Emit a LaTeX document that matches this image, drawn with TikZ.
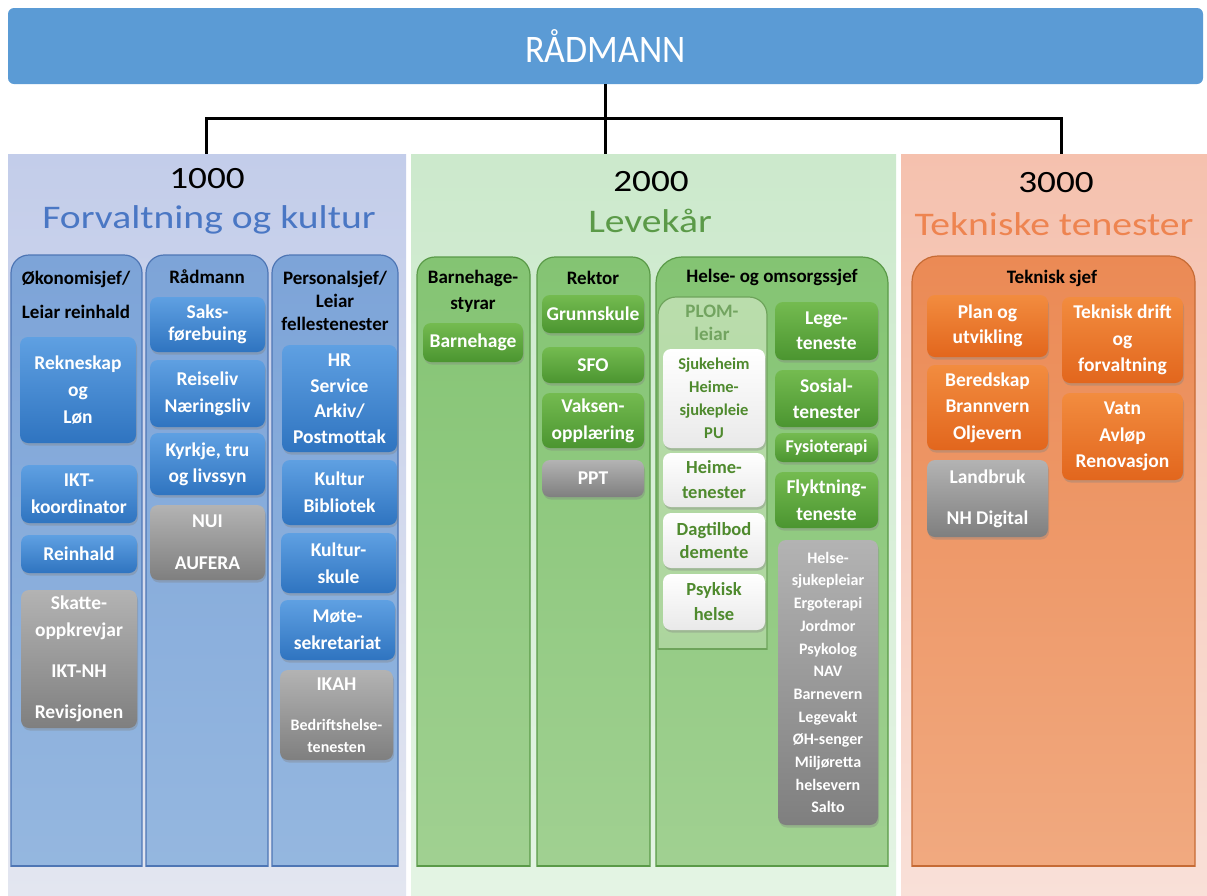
\documentclass[tikz,border=0pt]{standalone}
\usepackage{fontspec}
\setmainfont{Carlito}
\newfontfamily\titlefont{Carlito}[FakeStretch=1.2]
\newfontfamily\barfont{Carlito}[FakeStretch=0.92]
\usetikzlibrary{shadows}

\definecolor{barBlue}{HTML}{5B9BD5}
\definecolor{panelBlueTop}{HTML}{C3CDEA}
\definecolor{panelBlueBot}{HTML}{E3E6F0}
\definecolor{panelGreenTop}{HTML}{CCE9CC}
\definecolor{panelGreenBot}{HTML}{E4F4E4}
\definecolor{panelOrangeTop}{HTML}{F5C1AE}
\definecolor{panelOrangeBot}{HTML}{F9E0D8}
\definecolor{colBlueTop}{HTML}{7DA4D8}
\definecolor{colBlueBot}{HTML}{96B8E0}
\definecolor{colBlueLine}{HTML}{4E76B5}
\definecolor{colGreenTop}{HTML}{84C473}
\definecolor{colGreenBot}{HTML}{A2D193}
\definecolor{colGreenLine}{HTML}{5A9A48}
\definecolor{plomTop}{HTML}{BADDAC}
\definecolor{plomBot}{HTML}{AAD49B}
\definecolor{plomLine}{HTML}{6EA45B}
\definecolor{plomHead}{HTML}{72A460}
\definecolor{colOrangeTop}{HTML}{EB8A55}
\definecolor{colOrangeBot}{HTML}{F1AB82}
\definecolor{colOrangeLine}{HTML}{C66B35}
\definecolor{boxBlueTop}{HTML}{5FA0E2}
\definecolor{boxBlueBot}{HTML}{2F74C0}
\definecolor{boxGreenTop}{HTML}{74BB50}
\definecolor{boxGreenBot}{HTML}{4B9530}
\definecolor{boxOrangeTop}{HTML}{F28C3F}
\definecolor{boxOrangeBot}{HTML}{E2661D}
\definecolor{boxGrayTop}{HTML}{B3B3B3}
\definecolor{boxGrayBot}{HTML}{7F7F7F}
\definecolor{boxWhiteBot}{HTML}{E9E9E9}
\definecolor{whiteText}{HTML}{4F8A2E}
\definecolor{titleBlue}{HTML}{4A77C4}
\definecolor{titleGreen}{HTML}{5B9A48}
\definecolor{titleOrange}{HTML}{EE8450}

\newcommand{\smallboxfont}{\fontsize{16}{22}\selectfont}

\tikzset{
    boxspan/.style n args={4}{at={({(#1+#3)/2},{(#2+#4)/2})},
        minimum width={(#3-#1)*1pt}, minimum height={(#4-#2)*1pt}},
    unitbox/.style={rounded corners=8pt, inner sep=0pt, align=center, text=white,
        font=\bfseries\fontsize{19.5}{26}\selectfont,
        drop shadow={shadow xshift=1pt, shadow yshift=-2.5pt, opacity=0.35}},
    bluebox/.style={unitbox, top color=boxBlueTop, bottom color=boxBlueBot},
    greenbox/.style={unitbox, top color=boxGreenTop, bottom color=boxGreenBot},
    orangebox/.style={unitbox, top color=boxOrangeTop, bottom color=boxOrangeBot},
    graybox/.style={unitbox, top color=boxGrayTop, bottom color=boxGrayBot},
    whitebox/.style={unitbox, top color=white, bottom color=boxWhiteBot, text=whiteText,
        font=\bfseries\fontsize{18.5}{25}\selectfont},
    headtext/.style={inner sep=0pt, align=center, font=\bfseries\fontsize{19}{23}\selectfont},
    numtext/.style={inner sep=0pt, anchor=base, font=\titlefont\fontsize{31}{34}\selectfont},
    titletext/.style={inner sep=0pt, anchor=base, font=\titlefont\fontsize{33}{36}\selectfont},
    panelbox/.style={inner sep=0pt, draw=none},
    colblue/.style={draw=colBlueLine, line width=1.2pt, top color=colBlueTop, bottom color=colBlueBot},
    colgreen/.style={draw=colGreenLine, line width=1.2pt, top color=colGreenTop, bottom color=colGreenBot},
    colplom/.style={draw=plomLine, line width=1.2pt, top color=plomTop, bottom color=plomBot},
    colorange/.style={draw=colOrangeLine, line width=1.2pt, top color=colOrangeTop, bottom color=colOrangeBot},
    connline/.style={line width=3pt, black},
}

\begin{document}
\begin{tikzpicture}[x=1pt, y=-1pt]
    % variables
    \pgfmathsetmacro{\vColBottom}{866}
    \pgfmathsetmacro{\vPlomBottom}{649}

    \useasboundingbox (0,0) rectangle (1207,895);
    \fill[white] (0,0) rectangle (1207,895);

    % top bar
    \node[inner sep=0pt, rounded corners=6pt, fill=barBlue, text=white,
        font=\barfont\fontsize{39}{42}\selectfont, boxspan={8}{8}{1203}{84}] (raadmann) {RÅDMANN};

    % panels
    \node[panelbox, top color=panelBlueTop, bottom color=panelBlueBot, boxspan={8}{154}{406}{895}] (p1) {};
    \node[panelbox, top color=panelGreenTop, bottom color=panelGreenBot, boxspan={411}{154}{896}{895}] (p2) {};
    \node[panelbox, top color=panelOrangeTop, bottom color=panelOrangeBot, boxspan={901}{154}{1207}{895}] (p3) {};

    \coordinate (j1) at (206,118);
    \coordinate (j3) at (1061,118);
    \draw[connline] (raadmann.south) -- (raadmann.south |- p2.north);
    \draw[connline] (j1 |- p1.north) -- (j1) -- (j3) -- (j3 |- p3.north);

    \node[numtext] (n1000) at (207,188) {1000};
    \node[titletext, text=titleBlue] (t1000) at (209,228) {Forvaltning og kultur};
    \node[numtext] (n2000) at (651,191) {2000};
    \node[titletext, text=titleGreen] (t2000) at (650,232) {Levekår};
    \node[numtext] (n3000) at (1056,192) {3000};
    \node[titletext, text=titleOrange] (t3000) at (1054,235) {Tekniske tenester};

    % columns, open at the bottom
    \begin{scope}
        \clip (0,0) rectangle (1207,\vColBottom);
        \draw[colblue, rounded corners=18pt] (11,255) rectangle (142,900);
        \draw[colblue, rounded corners=18pt] (146,255) rectangle (268,900);
        \draw[colblue, rounded corners=18pt] (272,255) rectangle (398,900);
        \draw[colgreen, rounded corners=18pt] (417,257) rectangle (530,900);
        \draw[colgreen, rounded corners=18pt] (537,257) rectangle (650,900);
        \draw[colgreen, rounded corners=26pt] (656,257) rectangle (888,900);
        \draw[colorange, rounded corners=26pt] (912,256) rectangle (1195,900);
    \end{scope}
    \draw[colBlueLine, line width=1.2pt] (11,\vColBottom) -- (142,\vColBottom);
    \draw[colBlueLine, line width=1.2pt] (146,\vColBottom) -- (268,\vColBottom);
    \draw[colBlueLine, line width=1.2pt] (272,\vColBottom) -- (398,\vColBottom);
    \draw[colGreenLine, line width=1.2pt] (417,\vColBottom) -- (530,\vColBottom);
    \draw[colGreenLine, line width=1.2pt] (537,\vColBottom) -- (650,\vColBottom);
    \draw[colGreenLine, line width=1.2pt] (656,\vColBottom) -- (888,\vColBottom);
    \draw[colOrangeLine, line width=1.2pt] (912,\vColBottom) -- (1195,\vColBottom);
    \begin{scope}
        \clip (0,0) rectangle (1207,\vPlomBottom);
        \draw[colplom, rounded corners=18pt] (658,297) rectangle (767,700);
    \end{scope}
    \draw[plomLine, line width=1.2pt] (658,\vPlomBottom) -- (767,\vPlomBottom);

    % column heads
    \node[headtext] (h11) at (76,295) {Økonomisjef/\\[11pt]Leiar reinhald};
    \node[headtext] (h12) at (207,277) {Rådmann};
    \node[headtext] (h13) at (335,301) {Personalsjef/\\Leiar\\fellestenester};
    \node[headtext] (h21) at (473,291) {Barnehage-\\[3pt]styrar};
    \node[headtext] (h22) at (593,278) {Rektor};
    \node[headtext] (h23) at (772,277) {Helse- og omsorgssjef};
    \node[headtext, text=plomHead] (hplom) at (712,323) {PLOM-\\leiar};
    \node[headtext] (h31) at (1052,278) {Teknisk sjef};

    % 1000
    \node[bluebox, boxspan={20}{337}{136}{443}] (rekneskap) {Rekneskap\\[1pt]og\\[1pt]Løn};
    \node[bluebox, boxspan={21}{465}{137}{523}] (ikt) {IKT-\\[1pt]koordinator};
    \node[bluebox, boxspan={21}{535}{137}{573}] (reinhald) {Reinhald};
    \node[graybox, boxspan={21}{590}{137}{728}] (skatt) {Skatte-\\[1pt]oppkrevjar\\[15pt]IKT-NH\\[15pt]Revisjonen};
    \node[bluebox, boxspan={150}{297}{265}{352}] (saks) {Saks-\\[-4pt]førebuing};
    \node[bluebox, boxspan={150}{360}{265}{427}] (reiseliv) {Reiseliv\\[1pt]Næringsliv};
    \node[bluebox, boxspan={150}{433}{265}{495}] (kyrkje) {Kyrkje, tru\\og livssyn};
    \node[graybox, boxspan={150}{505}{265}{580}] (nui) {NUI\\[16pt]AUFERA};
    \node[bluebox, boxspan={282}{345}{397}{452}] (hr) {HR\\[-0.5pt]Service\\[-0.5pt]Arkiv/\\[-0.5pt]Postmottak};
    \node[bluebox, boxspan={282}{460}{397}{525}] (kultur) {Kultur\\[1pt]Bibliotek};
    \node[bluebox, boxspan={281}{533}{396}{593}] (kulturskule) {Kultur-\\[1pt]skule};
    \node[bluebox, boxspan={280}{600}{395}{660}] (mote) {Møte-\\[1pt]sekretariat};
    \node[graybox, boxspan={280}{670}{393}{760}] (ikah) {IKAH\\[14pt]\smallboxfont Bedriftshelse-\\[-4pt]\smallboxfont tenesten};

    % 2000
    \node[greenbox, boxspan={423}{323}{523}{362}] (barnehage) {Barnehage};
    \node[greenbox, boxspan={542}{295}{644}{333}] (grunnskule) {Grunnskule};
    \node[greenbox, boxspan={542}{347}{644}{383}] (sfo) {SFO};
    \node[greenbox, boxspan={542}{393}{644}{448}] (vaksen) {Vaksen-\\[1pt]opplæring};
    \node[graybox, boxspan={542}{460}{644}{497}] (ppt) {PPT};
    \node[whitebox, font=\bfseries\fontsize{16.5}{23}\selectfont, boxspan={663}{349}{765}{448}] (sjukeheim) {Sjukeheim\\Heime-\\sjukepleie\\PU};
    \node[whitebox, boxspan={663}{453}{765}{507}] (heime) {Heime-\\tenester};
    \node[whitebox, boxspan={663}{513}{765}{568}] (dagtilbod) {Dagtilbod\\[-2pt]demente};
    \node[whitebox, boxspan={663}{574}{765}{630}] (psykisk) {Psykisk\\helse};
    \node[greenbox, boxspan={775}{302}{878}{360}] (lege) {Lege-\\[-1pt]teneste};
    \node[greenbox, boxspan={775}{370}{878}{427}] (sosial) {Sosial-\\tenester};
    \node[greenbox, font=\bfseries\fontsize{18}{24}\selectfont, boxspan={775}{433}{878}{462}] (fysio) {Fysioterapi};
    \node[greenbox, boxspan={775}{472}{878}{528}] (flykt) {Flyktning-\\[1pt]teneste};
    \node[graybox, font=\bfseries\fontsize{16}{22.7}\selectfont, boxspan={778}{540}{878}{825}] (helse)
        {Helse-\\sjukepleiar\\Ergoterapi\\Jordmor\\Psykolog\\NAV\\Barnevern\\Legevakt\\ØH-senger\\Miljøretta\\helsevern\\Salto};

    % 3000
    \node[orangebox, boxspan={927}{295}{1048}{357}] (plan) {Plan og\\[-1pt]utvikling};
    \node[orangebox, boxspan={927}{365}{1048}{450}] (beredskap) {Beredskap\\[0.5pt]Brannvern\\[0.5pt]Oljevern};
    \node[graybox, boxspan={927}{460}{1048}{537}] (landbruk) {Landbruk\\[15pt]NH Digital};
    \node[orangebox, boxspan={1062}{297}{1183}{383}] (teknisk) {Teknisk drift\\[0.5pt]og\\[0.5pt]forvaltning};
    \node[orangebox, boxspan={1062}{393}{1183}{480}] (vatn) {Vatn\\[0.5pt]Avløp\\[0.5pt]Renovasjon};
\end{tikzpicture}
\end{document}
